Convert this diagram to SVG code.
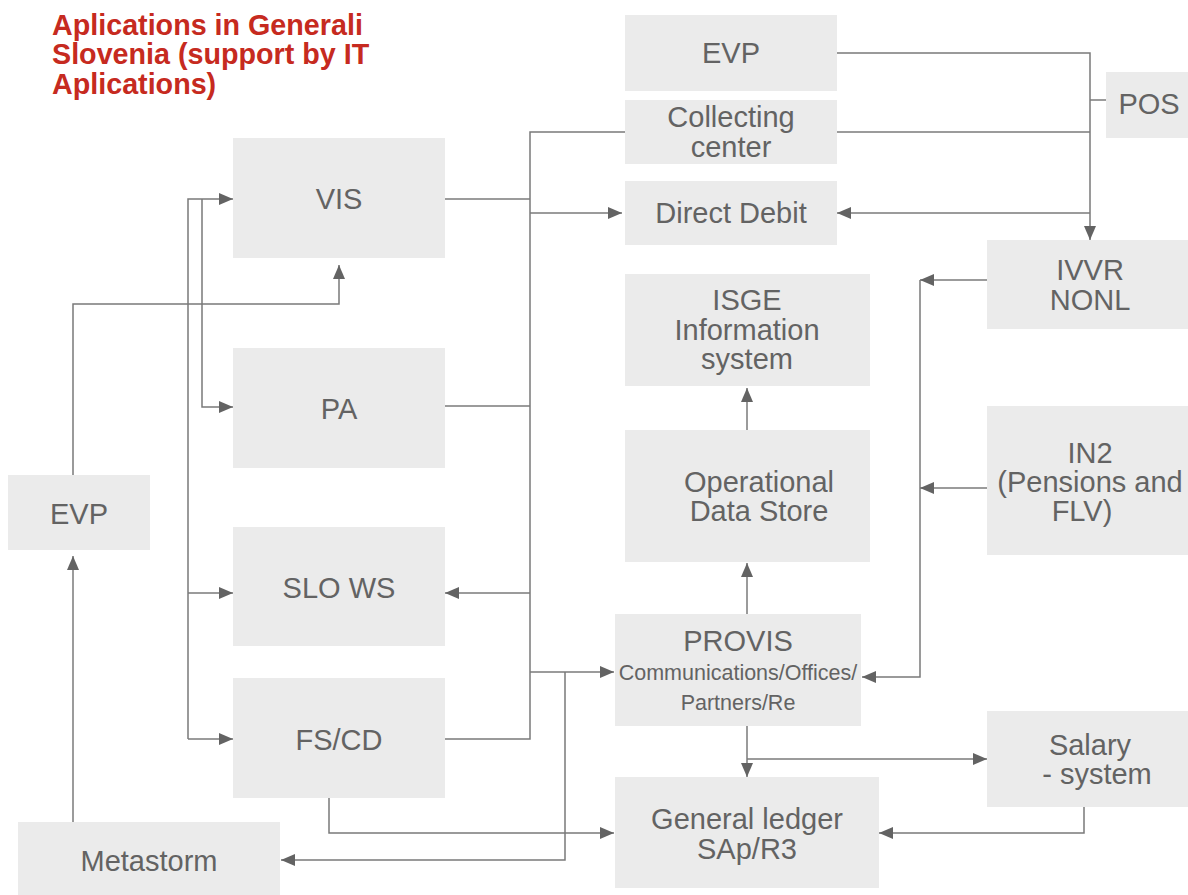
<svg xmlns="http://www.w3.org/2000/svg" width="1188" height="895" viewBox="0 0 1188 895">
<style>
.box{fill:#ebebeb}
.lbl{font-family:"Liberation Sans",Arial,sans-serif;font-size:29px;fill:#636363;text-anchor:middle}
.sm{font-size:21.5px}
.title{font-family:"Liberation Sans",Arial,sans-serif;font-size:28.7px;font-weight:bold;fill:#c62a20}
.ln{fill:none;stroke:#7a7a7a;stroke-width:1.5}
.ar{marker-end:url(#ah)}
</style>
<defs>
<marker id="ah" viewBox="0 0 14 12" refX="14" refY="6" markerWidth="14" markerHeight="12" orient="auto" markerUnits="userSpaceOnUse"><path d="M0,0 L14,6 L0,12 z" fill="#636363"/></marker>
</defs>
<rect width="1188" height="895" fill="#ffffff"/>
<g id="title">
<text class="title" x="52" y="35">Aplications in Generali</text>
<text class="title" x="52" y="64">Slovenia (support by IT</text>
<text class="title" x="52" y="94">Aplications)</text>
</g>
<g id="connectors">
<path class="ln" d="M837,53 H1090 V240" marker-end="url(#ah)"/>
<path class="ln" d="M1090,100 H1106"/>
<path class="ln" d="M837,132 H1090"/>
<path class="ln ar" d="M1090,213 H837"/>
<path class="ln" d="M625,132 H530 V739 H445"/>
<path class="ln" d="M445,199 H530"/>
<path class="ln ar" d="M530,213 H622"/>
<path class="ln" d="M445,406 H530"/>
<path class="ln ar" d="M530,593 H445"/>
<path class="ln ar" d="M530,672 H614"/>
<path class="ln ar" d="M565,672 V860 H281"/>
<path class="ln ar" d="M329,798 V833 H614"/>
<path class="ln ar" d="M188,739 V199 H233"/>
<path class="ln ar" d="M188,593 H233"/>
<path class="ln ar" d="M188,739 H233"/>
<path class="ln ar" d="M202,199 V407 H233"/>
<path class="ln ar" d="M73,475 V304 H339 V265"/>
<path class="ln ar" d="M73,822 V556"/>
<path class="ln ar" d="M747,430 V388"/>
<path class="ln ar" d="M747,614 V563"/>
<path class="ln ar" d="M747,726 V777"/>
<path class="ln ar" d="M747,759 H987"/>
<path class="ln ar" d="M1084,807 V833 H879"/>
<path class="ln ar" d="M987,280 H920"/>
<path class="ln ar" d="M920,280 V677 H862"/>
<path class="ln ar" d="M987,488 H920"/>
</g>
<g id="evp-top"><rect class="box" x="625" y="15" width="212" height="76"/><text class="lbl" x="731" y="63">EVP</text></g>
<g id="collecting-center"><rect class="box" x="625" y="100" width="212" height="64"/><text class="lbl" x="731" y="127">Collecting</text><text class="lbl" x="731" y="157">center</text></g>
<g id="direct-debit"><rect class="box" x="625" y="181" width="212" height="64"/><text class="lbl" x="731" y="223">Direct Debit</text></g>
<g id="pos"><rect class="box" x="1106" y="72" width="82" height="66"/><text class="lbl" x="1149" y="114">POS</text></g>
<g id="ivvr"><rect class="box" x="987" y="240" width="201" height="89"/><text class="lbl" x="1090" y="280">IVVR</text><text class="lbl" x="1090" y="310">NONL</text></g>
<g id="vis"><rect class="box" x="233" y="138" width="212" height="120"/><text class="lbl" x="339" y="209">VIS</text></g>
<g id="pa"><rect class="box" x="233" y="348" width="212" height="120"/><text class="lbl" x="339" y="419">PA</text></g>
<g id="slows"><rect class="box" x="233" y="527" width="212" height="119"/><text class="lbl" x="339" y="598">SLO WS</text></g>
<g id="fscd"><rect class="box" x="233" y="678" width="212" height="120"/><text class="lbl" x="339" y="750">FS/CD</text></g>
<g id="evp-left"><rect class="box" x="8" y="475" width="142" height="75"/><text class="lbl" x="79" y="524">EVP</text></g>
<g id="metastorm"><rect class="box" x="18" y="822" width="262" height="73"/><text class="lbl" x="149" y="871">Metastorm</text></g>
<g id="isge"><rect class="box" x="625" y="274" width="245" height="112"/><text class="lbl" x="747" y="310">ISGE</text><text class="lbl" x="747" y="340">Information</text><text class="lbl" x="747" y="369">system</text></g>
<g id="ods"><rect class="box" x="625" y="430" width="245" height="132"/><text class="lbl" x="759" y="492">Operational</text><text class="lbl" x="759" y="521">Data Store</text></g>
<g id="provis"><rect class="box" x="615" y="614" width="246" height="112"/><text class="lbl" x="738" y="651">PROVIS</text><text class="lbl sm" x="738" y="680">Communications/Offices/</text><text class="lbl sm" x="738" y="710">Partners/Re</text></g>
<g id="general-ledger"><rect class="box" x="615" y="777" width="264" height="111"/><text class="lbl" x="747" y="829">General ledger</text><text class="lbl" x="747" y="859">SAp/R3</text></g>
<g id="in2"><rect class="box" x="987" y="406" width="201" height="149"/><text class="lbl" x="1090" y="463">IN2</text><text class="lbl" x="1090" y="492">(Pensions and</text><text class="lbl" x="1082" y="521">FLV)</text></g>
<g id="salary"><rect class="box" x="987" y="711" width="201" height="96"/><text class="lbl" x="1090" y="755">Salary</text><text class="lbl" x="1097" y="784">- system</text></g>
</svg>
